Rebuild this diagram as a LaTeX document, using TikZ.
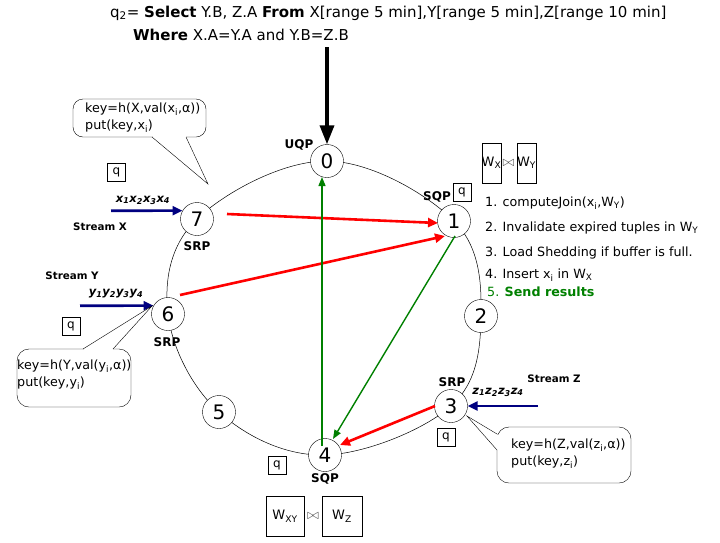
\documentclass[tikz,border=0pt]{standalone}
\usepackage{fontspec}
\setmainfont{DejaVu Sans}
\usetikzlibrary{arrows.meta,calc}
\definecolor{navyc}{RGB}{0,0,128}
\definecolor{greenc}{RGB}{0,128,0}
\begin{document}
\begin{tikzpicture}[x=1pt,y=-1pt,
  ringnode/.style={circle,draw,fill=white,minimum size=33pt,inner sep=0pt,font=\fontsize{20}{20}\selectfont},
  tag/.style={font=\bfseries\fontsize{12}{13}\selectfont,inner sep=0pt},
  streamlbl/.style={font=\bfseries\fontsize{10.3}{11}\selectfont,inner sep=0pt},
  tuples/.style={font=\bfseries\itshape\fontsize{11.5}{12}\selectfont,inner sep=0pt},
  qbox/.style={draw,minimum width=18pt,minimum height=18pt,inner sep=0pt,font=\fontsize{12}{12}\selectfont},
  wbox/.style={draw,inner sep=0pt,font=\fontsize{13}{13}\selectfont},
  bowtie/.style={font=\fontsize{14}{14}\selectfont,inner sep=0pt,text=black!70},
  txt/.style={inner sep=0pt,anchor=west,font=\fontsize{12.7}{14}\selectfont},
  callout/.style={draw,rounded corners=10pt,fill=white},
  redarr/.style={red,line width=2.6pt,-{Triangle[length=10pt,width=9pt]}},
  greenarr/.style={greenc,line width=1.4pt,-{Triangle[length=9pt,width=7pt]}},
  navyarr/.style={navyc,line width=2.6pt,-{Triangle[length=10pt,width=9pt]}},
  ptr/.style={draw,line width=0.4pt}
]
\useasboundingbox (0,0) rectangle (720,542);

% title
\node[txt,font=\fontsize{15}{17}\selectfont] (title1) at (110,13) {q\textsubscript{2}= \textbf{Select} Y.B, Z.A \textbf{From} X[range 5 min],Y[range 5 min],Z[range 10 min]};
\node[txt,font=\fontsize{15}{17}\selectfont] (title2) at (133,35) {\textbf{Where} X.A=Y.A and Y.B=Z.B};

% ring
\draw[line width=0.5pt] plot[smooth cycle,tension=0.62] coordinates {(327,161) (454,221) (481,316) (451,406) (325,455) (219,412) (168,314) (197,219)};

% nodes
\node[ringnode] (n0) at (327,161) {0};
\node[ringnode] (n1) at (454,221) {1};
\node[ringnode] (n2) at (481,316) {2};
\node[ringnode] (n3) at (451,406) {3};
\node[ringnode] (n4) at (325,455) {4};
\node[ringnode] (n5) at (219,412) {5};
\node[ringnode] (n6) at (168,314) {6};
\node[ringnode] (n7) at (197,219) {7};

% role labels
\node[tag] (uqp) at (299,145) {UQP};
\node[tag] (sqp1) at (437,197) {SQP};
\node[tag] (srp7) at (197,246) {SRP};
\node[tag] (srp6) at (167,342) {SRP};
\node[tag] (srp3) at (452,382) {SRP};
\node[tag] (sqp4) at (325,479) {SQP};

% q boxes
\node[qbox] (q7) at (116.5,172.5) {q};
\node[qbox] (q1) at (462,192.5) {q};
\node[qbox] (q6) at (71,326) {q};
\node[qbox] (q3) at (446,437.5) {q};
\node[qbox] (q4) at (277,465) {q};

% query arrow
\coordinate (qin) at (327,47);
\draw[line width=3.5pt,-{Triangle[length=19pt,width=14pt]}] (qin) -- (n0.north);

% window boxes near 1
\node[wbox,minimum width=19pt,minimum height=40pt] (wx) at (491.5,163) {W\textsubscript{X}};
\node[bowtie] (bt1) at (508.5,163) {$\bowtie$};
\node[wbox,minimum width=19pt,minimum height=40pt] (wy) at (526.5,163) {W\textsubscript{Y}};

% window boxes near 4
\node[wbox,minimum width=38pt,minimum height=40pt] (wxy) at (285,516) {W\textsubscript{XY}};
\node[bowtie] (bt4) at (313,516) {$\bowtie$};
\node[wbox,minimum width=40pt,minimum height=40pt] (wz) at (342,516) {W\textsubscript{Z}};

% steps list
\node[txt] (s1) at (485,203) {1. computeJoin(x\textsubscript{i},W\textsubscript{Y})};
\node[txt] (s2) at (485,228) {2. Invalidate expired tuples in W\textsubscript{Y}};
\node[txt] (s3) at (485,253) {3. Load Shedding if buffer is full.};
\node[txt] (s4) at (485,275) {4. Insert x\textsubscript{i} in W\textsubscript{X}};
\node[txt,text=greenc] (s5) at (487,292) {5. \textbf{Send results}};

% streams
\node[streamlbl] (sx) at (100,227) {Stream X};
\node[streamlbl] (sy) at (72,276) {Stream Y};
\node[streamlbl] (sz) at (554,379) {Stream Z};
\node[tuples] (tx) at (143,200) {x\textsubscript{1}x\textsubscript{2}x\textsubscript{3}x\textsubscript{4}};
\node[tuples] (ty) at (116,294) {y\textsubscript{1}y\textsubscript{2}y\textsubscript{3}y\textsubscript{4}};
\node[tuples] (tz) at (498,392) {z\textsubscript{1}z\textsubscript{2}z\textsubscript{3}z\textsubscript{4}};

\coordinate (xs) at (111,210.75);
\coordinate (ys) at (80,305.75);
\coordinate (zs) at (538,406);
\draw[navyarr] (xs) -- (n7.150);
\draw[navyarr] (ys) -- (n6.150);
\draw[navyarr] (zs) -- (n3.east);

% red arrows
\draw[redarr] ($(n7)+(30,-5)$) -- ($(n1)+(-16,2)$);
\draw[redarr] ($(n6)+(12,-19)$) -- ($(n1)+(-9,15)$);
\draw[redarr] ($(n3)+(-16,0)$) -- ($(n4)+(15,-10)$);

% green arrows
\draw[greenarr] ($(n4)+(-3,-9)$) -- ($(n0)+(-5,16)$);
\draw[greenarr] ($(n1)+(1,15)$) -- ($(n4)+(8,-16)$);

% callout 7
\draw[callout] (73,99) rectangle (206,137);
\fill[white] (152.5,135) rectangle (185.5,139);
\coordinate (tip7) at (208,184);
\draw[ptr] (152,137) -- (tip7) -- (186,137);
\node[txt] (c7a) at (85,109) {key=h(X,val(x\textsubscript{i},α))};
\node[txt] (c7b) at (85,126) {put(key,x\textsubscript{i})};

% callout 6
\draw[callout,rounded corners=12pt] (17,349) rectangle (131,407);
\fill[white] (83.5,347) rectangle (112.5,351);
\coordinate (tip6) at (152,306);
\draw[ptr] (83,349) -- (tip6) -- (113,349);
\node[txt] (c6a) at (17,366) {key=h(Y,val(y\textsubscript{i},α))};
\node[txt] (c6b) at (17,383) {put(key,y\textsubscript{i})};

% callout 3
\draw[callout,rounded corners=12pt] (497,427) rectangle (631,483);
\fill[white] (495,434.5) rectangle (499,449.5);
\coordinate (tip3) at (467,416);
\draw[ptr] (497,434) -- (tip3) -- (497,450);
\node[txt] (c3a) at (511,445) {key=h(Z,val(z\textsubscript{i},α))};
\node[txt] (c3b) at (511,462) {put(key,z\textsubscript{i})};
\end{tikzpicture}
\end{document}
